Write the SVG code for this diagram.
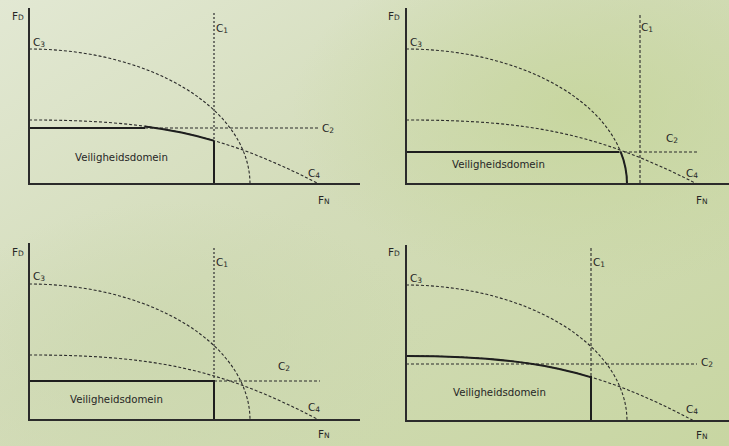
<svg xmlns="http://www.w3.org/2000/svg" width="729" height="446" viewBox="0 0 729 446">
<style>
.axis{fill:none;stroke:#2b2b2b;stroke-width:2}
.thick{fill:none;stroke:#1e1e1e;stroke-width:2}
.dash{fill:none;stroke:#2b2b2b;stroke-width:1.1;stroke-dasharray:3 2}
.dot{fill:none;stroke:#3a3a3a;stroke-width:1.3;stroke-dasharray:2 2}
text{font-family:"DejaVu Sans","Verdana",sans-serif;fill:#262626}
.lbl{font-size:10.5px}
.sub{font-size:7.5px}
.dom{font-size:10.2px}
</style>
<defs>
<linearGradient id="bg" x1="0" y1="0" x2="1" y2="1">
<stop offset="0" stop-color="#e2e8d3"/>
<stop offset="0.45" stop-color="#d3dcb9"/>
<stop offset="1" stop-color="#c8d6a2"/>
</linearGradient>
<radialGradient id="spot1" cx="0.8" cy="0.25" r="0.4">
<stop offset="0" stop-color="#c5d59a" stop-opacity="0.8"/>
<stop offset="1" stop-color="#c5d59a" stop-opacity="0"/>
</radialGradient>
<radialGradient id="spot2" cx="0.25" cy="0.8" r="0.35">
<stop offset="0" stop-color="#cbd7ae" stop-opacity="0.8"/>
<stop offset="1" stop-color="#cbd7ae" stop-opacity="0"/>
</radialGradient>
<clipPath id="k1"><rect x="145" y="0" width="69" height="200"/></clipPath>
<clipPath id="k2"><rect x="600" y="152" width="40" height="40"/></clipPath>
<clipPath id="k4"><rect x="400" y="240" width="191" height="200"/></clipPath>
</defs>
<rect width="729" height="446" fill="url(#bg)"/>
<rect width="729" height="446" fill="url(#spot1)"/>
<rect width="729" height="446" fill="url(#spot2)"/>

<g id="panel1">
<g id="p1-connectors">
<path class="dot" d="M214,13 V141"/>
<path class="dash" d="M29,49 A221 135 0 0 1 250,184"/>
<path class="dash" d="M145,128 H318"/>
<path class="dash" d="M29,120 c120,0 190,12.1 290,64"/>
<path class="thick" clip-path="url(#k1)" d="M29,120 c120,0 190,12.1 290,64"/>
<path class="thick" d="M29,128 H145"/>
<path class="thick" d="M214,141 V184"/>
<path class="axis" d="M29,8 V184 H360"/>
</g>
<text class="lbl" x="12" y="20">F<tspan class="sub">D</tspan></text>
<text class="lbl" x="216" y="32">C<tspan class="sub" dy="1">1</tspan></text>
<text class="lbl" x="33" y="46">C<tspan class="sub" dy="1">3</tspan></text>
<text class="lbl" x="322" y="132">C<tspan class="sub" dy="1">2</tspan></text>
<text class="lbl" x="308" y="177">C<tspan class="sub" dy="1">4</tspan></text>
<text class="lbl" x="318" y="204">F<tspan class="sub">N</tspan></text>
<text class="dom" x="75" y="161">Veiligheidsdomein</text>
</g>

<g id="panel2">
<g id="p2-connectors">
<path class="dash" d="M640,15 V184"/>
<path class="dash" d="M406,49 A221 135 0 0 1 627,184"/>
<path class="thick" clip-path="url(#k2)" d="M406,49 A221 135 0 0 1 627,184"/>
<path class="dash" d="M619,152 H697"/>
<path class="thick" d="M406,152 H619"/>
<path class="dash" d="M406,120 c120,0 190,12.1 291,64"/>
<path class="axis" d="M406,8 V184 H729"/>
</g>
<text class="lbl" x="388" y="20">F<tspan class="sub">D</tspan></text>
<text class="lbl" x="641" y="31">C<tspan class="sub" dy="1">1</tspan></text>
<text class="lbl" x="410" y="46">C<tspan class="sub" dy="1">3</tspan></text>
<text class="lbl" x="666" y="142">C<tspan class="sub" dy="1">2</tspan></text>
<text class="lbl" x="686" y="177">C<tspan class="sub" dy="1">4</tspan></text>
<text class="lbl" x="696" y="204">F<tspan class="sub">N</tspan></text>
<text class="dom" x="452" y="168">Veiligheidsdomein</text>
</g>

<g id="panel3">
<g id="p3-connectors">
<path class="dot" d="M214,248 V381"/>
<path class="dash" d="M29,284 A221 136 0 0 1 250,420"/>
<path class="dash" d="M214,381 H320"/>
<path class="dash" d="M29,355 c120,0 190,12.3 290,65"/>
<path class="thick" d="M29,381 H214 V420"/>
<path class="axis" d="M29,243 V420 H360"/>
</g>
<text class="lbl" x="12" y="256">F<tspan class="sub">D</tspan></text>
<text class="lbl" x="216" y="266">C<tspan class="sub" dy="1">1</tspan></text>
<text class="lbl" x="33" y="280">C<tspan class="sub" dy="1">3</tspan></text>
<text class="lbl" x="278" y="370">C<tspan class="sub" dy="1">2</tspan></text>
<text class="lbl" x="308" y="411">C<tspan class="sub" dy="1">4</tspan></text>
<text class="lbl" x="318" y="438">F<tspan class="sub">N</tspan></text>
<text class="dom" x="70" y="403">Veiligheidsdomein</text>
</g>

<g id="panel4">
<g id="p4-connectors">
<path class="dash" d="M591,248 V376"/>
<path class="dash" d="M406,285 A221 136 0 0 1 627,421"/>
<path class="dash" d="M406,364 H697"/>
<path class="dash" d="M406,356 c120,0 190,12.3 288,65"/>
<path class="thick" clip-path="url(#k4)" d="M406,356 c120,0 190,12.3 288,65"/>
<path class="thick" d="M591,376 V421"/>
<path class="axis" d="M406,245 V421 H729"/>
</g>
<text class="lbl" x="388" y="256">F<tspan class="sub">D</tspan></text>
<text class="lbl" x="593" y="266">C<tspan class="sub" dy="1">1</tspan></text>
<text class="lbl" x="410" y="282">C<tspan class="sub" dy="1">3</tspan></text>
<text class="lbl" x="701" y="366">C<tspan class="sub" dy="1">2</tspan></text>
<text class="lbl" x="686" y="413">C<tspan class="sub" dy="1">4</tspan></text>
<text class="lbl" x="696" y="439">F<tspan class="sub">N</tspan></text>
<text class="dom" x="453" y="396">Veiligheidsdomein</text>
</g>
</svg>
